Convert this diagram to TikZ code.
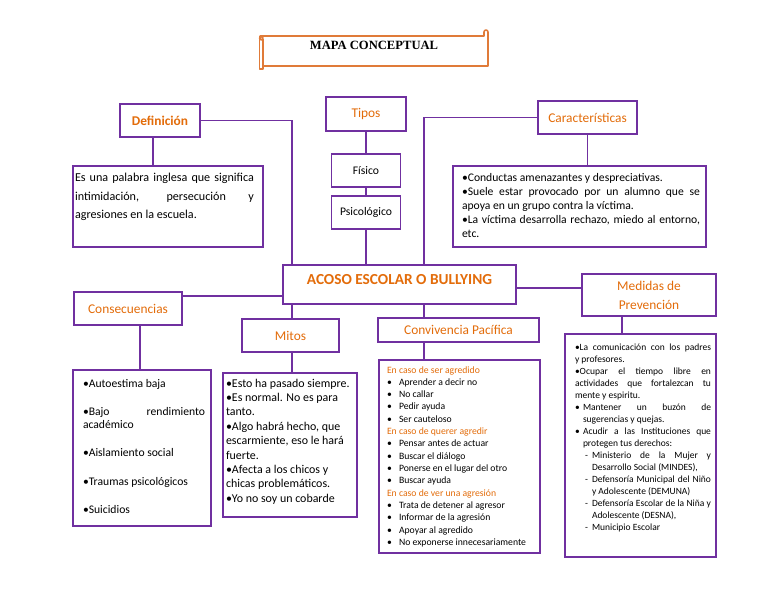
\documentclass[tikz,border=0pt]{standalone}
\usepackage{fontspec}
\setmainfont{Carlito}
\newfontfamily\titlefont{Liberation Serif}
\usetikzlibrary{calc}
\definecolor{mpurple}{HTML}{7030A0}
\definecolor{morange}{HTML}{E36C0A}
\definecolor{scrollor}{HTML}{E07B39}
\newdimen\pxu \pxu=1.03125pt
\newcommand\tbox[6]{\parbox[c][#2\pxu][t]{#1\pxu}{\leftskip=#3\pxu\relax\rightskip=#5\pxu\relax\parindent=0pt\relax\parskip=0pt\relax\parfillskip=0pt plus 1fil\relax\tolerance=10000\hbadness=10000\hyphenpenalty=10000\rule{0pt}{#4\pxu}#6}}
\newcommand\bul{\makebox[12\pxu][l]{•}}
\tikzset{
  bx/.style={draw=mpurple, line width=1.7pt, inner sep=0pt, fill=white},
  sz/.style 2 args={minimum width=#1*1.03125pt, minimum height=#2*1.03125pt},
  hd/.style={bx, text=morange, font=\fontsize{13.8}{16.5}\selectfont},
  conn/.style={draw=mpurple, line width=1.7pt},
  scroll/.style={draw=scrollor, line width=1.6pt, line join=round},
}
\begin{document}
\begin{tikzpicture}[x=1.03125pt,y=-1.03125pt]
\useasboundingbox (0,0) rectangle (768,594);
% title scroll
\draw[scroll] (259.5,36) -- (484,36) -- (484,32) arc[start angle=180,end angle=360,radius=2] -- (488,66) -- (263,66);
\draw[scroll] (259.5,36) -- (259.5,69) -- (263,69) -- (263,39);
\draw[scroll] (261.3,38.2) circle (1.8);
\node[font=\titlefont\fontsize{13}{15}\selectfont\bfseries] (title) at (374,45) {MAPA CONCEPTUAL};

% nodes
\node[hd, sz={80}{33}, font=\fontsize{13.8}{16.5}\selectfont\bfseries] (def) at (160,120.5) {Definición};
\node[bx, font=\fontsize{12.5}{18.6}\selectfont] (deftext) at (168,206.5)
  {\tbox{190}{81}{2}{16}{9}{Es una palabra inglesa que significa\linebreak intimidación, persecución y\linebreak agresiones en la escuela.}};
\node[hd, sz={80}{34}] (tipos) at (366,114) {Tipos};
\node[bx, sz={69}{33}, font=\fontsize{12}{14}\selectfont] (fisico) at (366,170.5) {Físico};
\node[bx, sz={69}{33}, font=\fontsize{12}{14}\selectfont] (psico) at (366,212.5) {Psicológico};
\node[hd, sz={99}{33}] (carac) at (587.5,117.5) {Características};
\node[bx, font=\fontsize{12}{14.4}\selectfont] (caractext) at (579.5,206.5)
  {\tbox{253}{81}{9}{16}{6}{•Conductas amenazantes y despreciativas.\par •Suele estar provocado por un alumno que se\linebreak apoya en un grupo contra la víctima.\par •La víctima desarrolla rechazo, miedo al entorno,\linebreak etc.}};
\node[hd, sz={233}{39}, font=\fontsize{15.8}{19}\selectfont\bfseries] (center) at (399.5,284.5) {\raisebox{11\pxu}{ACOSO ESCOLAR O BULLYING}};
\node[hd, sz={108}{33}] (conse) at (128,308.5) {Consecuencias};
\node[bx, font=\fontsize{12}{12.9}\selectfont] (consetext) at (142,448)
  {\tbox{138}{156}{10}{17}{6}{\parskip=16\pxu •Autoestima baja\par •Bajo rendimiento\linebreak académico\par •Aislamiento social\par •Traumas psicológicos\par •Suicidios}};
\node[hd, sz={97}{33}] (mitos) at (290.5,335.5) {Mitos};
\node[bx, font=\fontsize{12.3}{14.85}\selectfont] (mitostext) at (290,445)
  {\tbox{134}{144}{3}{14}{2}{•Esto ha pasado siempre.\\ •Es normal. No es para\\ tanto.\\ •Algo habrá hecho, que\\ escarmiente, eso le hará\\ fuerte.\\ •Afecta a los chicos y\\ chicas problemáticos.\\ •Yo no soy un cobarde}};
\node[hd, sz={161}{24}] (conv) at (458.5,330) {Convivencia Pacífica};
\node[bx, font=\fontsize{10}{12.7}\selectfont] (convtext) at (459.5,456.5)
  {\tbox{161}{193}{8}{13}{2}{{\color{morange}En caso de ser agredido}\\
   \bul Aprender a decir no\\ \bul No callar\\ \bul Pedir ayuda\\ \bul Ser cauteloso\\
   {\color{morange}En caso de querer agredir}\\
   \bul Pensar antes de actuar\\ \bul Buscar el diálogo\\ \bul Ponerse en el lugar del otro\\ \bul Buscar ayuda\\
   {\color{morange}En caso de ver una agresión}\\
   \bul Trata de detener al agresor\\ \bul Informar de la agresión\\ \bul Apoyar al agredido\\ \bul No exponerse innecesariamente}};
\node[hd, sz={134}{42}, align=center, font=\fontsize{13.8}{19.6}\selectfont] (medidas) at (649,295) {Medidas de\\Prevención};
\node[bx, font=\fontsize{9.8}{12.4}\selectfont] (medidastext) at (640.5,445.5)
  {\tbox{151}{223}{10}{16}{5}{•La comunicación con los padres\linebreak y profesores.\par
   •Ocupar el tiempo libre en\linebreak actividades que fortalezcan tu\linebreak mente y espiritu.\par
   \hangindent=8\pxu\hangafter=1 \leavevmode\makebox[8\pxu][l]{•}Mantener un buzón de\linebreak sugerencias y quejas.\par
   \hangindent=8\pxu\hangafter=1 \leavevmode\makebox[8\pxu][l]{•}Acudir a las Instituciones que\linebreak protegen tus derechos:\par
   \hangindent=17\pxu\hangafter=1 \leavevmode\makebox[17\pxu][l]{\hspace*{10\pxu}-}Ministerio de la Mujer y\linebreak Desarrollo Social (MINDES),\par
   \hangindent=17\pxu\hangafter=1 \leavevmode\makebox[17\pxu][l]{\hspace*{10\pxu}-}Defensoría Municipal del Niño\linebreak y Adolescente (DEMUNA)\par
   \hangindent=17\pxu\hangafter=1 \leavevmode\makebox[17\pxu][l]{\hspace*{10\pxu}-}Defensoría Escolar de la Niña y\linebreak Adolescente (DESNA),\par
   \hangindent=17\pxu\hangafter=1 \leavevmode\makebox[17\pxu][l]{\hspace*{10\pxu}-}Municipio Escolar}};

% connectors
\coordinate (d1) at ($(def.south)+(-7,0)$);
\draw[conn] (d1) -- (d1 |- deftext.north);
\coordinate (a1) at ($(center.north west)+(10,0)$);
\draw[conn] (def.east) -| (a1);
\draw[conn] (tipos) -- (fisico);
\draw[conn] (fisico) -- (psico);
\draw[conn] (psico) -- (psico |- center.north);
\coordinate (a2) at ($(center.north west)+(142,0)$);
\draw[conn] (carac.west) -| (a2);
\draw[conn] (carac) -- (carac |- caractext.north);
\coordinate (b1) at ($(conse.north east)+(0,5)$);
\draw[conn] (b1) -- (b1 -| center.west);
\coordinate (b2) at ($(conse.south)+(12,0)$);
\draw[conn] (b2) -- (b2 |- consetext.north);
\coordinate (m1) at ($(center.south west)+(10,0)$);
\draw[conn] (m1) -- (m1 |- mitos.north);
\draw[conn] (m1 |- mitos.south) -- (m1 |- mitostext.north);
\coordinate (c1) at ($(center.south west)+(142,0)$);
\draw[conn] (c1) -- (c1 |- conv.north);
\draw[conn] (c1 |- conv.south) -- (c1 |- convtext.north);
\coordinate (e1) at ($(center.east)+(0,3.5)$);
\draw[conn] (e1) -- (e1 -| medidas.west);
\coordinate (p1) at ($(medidas.south)+(-27,0)$);
\draw[conn] (p1) -- (p1 |- medidastext.north);
\end{tikzpicture}
\end{document}
